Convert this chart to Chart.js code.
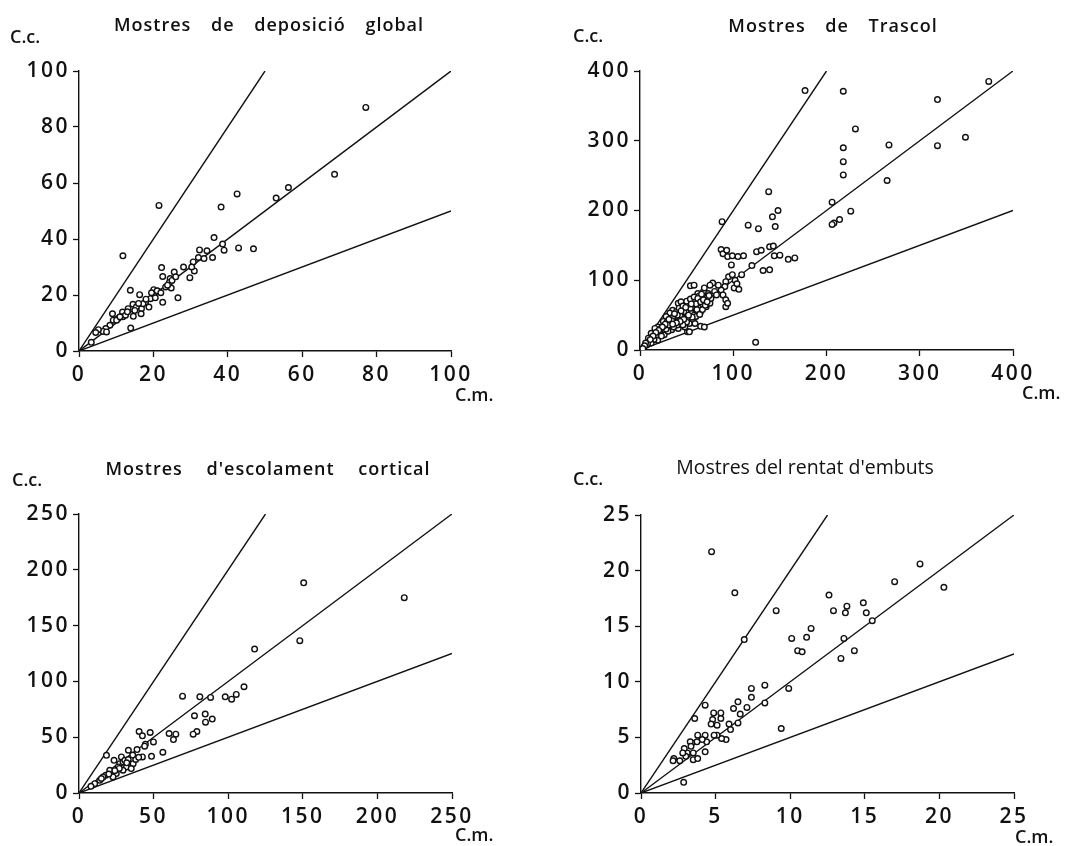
<!DOCTYPE html>
<html>
<head>
    <title>Concentracions calculades vs mesurades</title>
    <script src="https://cdnjs.cloudflare.com/ajax/libs/Chart.js/4.4.1/chart.umd.min.js"></script>
    <style>
        body { margin: 0; background: #fff; }
        .panel { position: absolute; }
    </style>
</head>
<body>
    <canvas id="c1" class="panel" width="540" height="423" style="left:0;top:0"></canvas>
    <canvas id="c2" class="panel" width="535" height="423" style="left:540px;top:0"></canvas>
    <canvas id="c3" class="panel" width="540" height="423" style="left:0;top:423px"></canvas>
    <canvas id="c4" class="panel" width="535" height="423" style="left:540px;top:423px"></canvas>

    <script>
        // [C.m., C.c.] pairs
        const deposicioGlobal = [
            [77.1,87.0],[68.7,63.1],[56.3,58.4],[53.0,54.6],[42.5,56.1],[38.2,51.4],[21.5,52.0],[11.8,34.0],
            [36.3,40.5],[42.9,36.8],[46.9,36.5],[38.6,38.2],[39.0,36.0],[35.9,33.4],[34.4,35.8],[32.4,36.1],
            [33.6,33.0],[32.1,33.4],[30.7,31.8],[31.0,28.6],[29.8,26.2],[28.1,30.0],[30.3,30.0],[25.6,28.2],
            [22.2,29.8],[22.5,26.6],[24.5,25.9],[26.6,19.0],[22.5,17.4],[24.8,22.5],[24.3,24.5],[25.0,25.2],
            [23.3,22.9],[21.3,21.3],[20.1,21.9],[20.1,20.5],[19.2,18.7],[18.8,15.7],[16.3,20.1],[16.8,15.1],
            [16.7,13.3],[17.9,17.5],[13.8,21.7],[13.9,8.2],[14.6,12.4],[14.5,16.7],[13.2,15.1],[11.7,13.9],
            [11.8,12.2],[10.5,11.6],[9.0,13.3],[9.2,11.0],[8.3,9.2],[7.2,8.0],[6.5,7.0],[5.2,7.6],[4.5,6.6],
            [3.3,3.1],[7.4,6.8],[10.1,11.0],[11.0,12.2],[15.4,15.7],[17.2,16.9],[19.5,20.8],[21.0,21.5],
            [22.0,20.8],[23.8,23.5],[18.0,18.5],[12.5,12.8],[13.0,14.0],[15.0,14.5],[16.0,17.0],[20.5,19.0],[26.0,26.5]
        ];
        const trascol = [
            [374,385],[319,359],[319,293],[349,305],[267,294],[265,243],[231,317],[218,371],[218,290],[218,270],
            [218,251],[206,212],[226,199],[214,187],[208,182],[206,180],[177,372],[138,227],[148,200],[142,191],
            [145,177],[116,179],[127,174],[88,184],[87,144],[89,138],[94,134],[105,134],[139,148],[144,135],
            [159,130],[166,132],[125,141],[120,121],[132,114],[109,108],[101,89],[124,11],[54,92],[65,34],[51,26],
            [98,122],[58,93],[95,105],[99,108],[102,100],[104,95],[92,98],[91,91],[87,86],[84,93],[78,96],[75,93],
            [80,84],[89,79],[92,72],[92,62],[94,67],[41,67],[44,69],[35,57],[32,53],[28,48],[25,41],[19,33],[16,31],
            [12,24],[9,17],[53,26],[69,33],[41,31],[48,33],[44,38],[34,29],[26,22],[19,14],[51,57],[59,62],[62,67],
            [66,72],[69,77],[55,53],[60,55],[64,60],[48,48],[51,45],[57,43],[44,45],[41,43],[37,41],[34,38],[30,33],
            [25,29],[21,26],[18,22],[14,17],[10,12],[7,7],[4,4],[48,41],[53,38],[59,38],[71,62],[75,67],[76,74],
            [82,79],[73,81],[68,84],[62,81],[69,89],[93,143],[99,135],[111,135],[130,143],[143,149],[150,136],
            [139,115],[106,87],[45,52],[38,47],[56,63],[63,70],[67,66],[58,50],[50,40],[46,36],[40,36],[36,33],
            [30,27],[28,30],[23,20],[15,15],[12,10],[8,9],[65,55],[70,70],[72,75],[61,58],[54,60],[47,55],[43,50],
            [39,55],[33,45],[29,40],[36,48],[52,66],[57,72],[63,77],[66,80],[60,66],[31,36],[26,35],[22,30],
            [42,60],[46,63],[50,70],[54,73],[58,76],[62,74],[65,69],[68,72],[55,66],[49,61],[44,56],[40,50],
            [37,52],[34,42],[31,44],[27,37],[24,33],[20,28],[17,25],[14,20],[11,15],[6,10],[5,6],[3,2],
            [60,48],[56,47],[52,50],[47,44],[43,41],[39,39],[35,37],[64,51],[67,58],[70,64],[72,69],[74,78]
        ];
        const escolamentCortical = [
            [218,175],[150.6,188.3],[148,136.5],[117.7,129],[110.6,95.2],[105.4,88.3],[102.3,84.1],[98,86.2],
            [88.2,85.6],[81,86.2],[69.4,86.8],[84.6,70.7],[77.4,69.2],[89.3,66.2],[84.8,63.5],[79,55.1],[76.5,52.7],
            [64.9,52.7],[60.4,53.3],[63.3,47.9],[56.2,36.5],[48.6,32.9],[49.9,45.8],[47.7,54.2],[40.3,55.1],
            [42.5,51.2],[44.5,43.7],[38.9,38.9],[33.1,38.3],[42.5,32.3],[18.4,33.8],[23.5,29.3],[27.3,26.3],
            [29.5,27.8],[31.8,23.4],[36.3,26.3],[38,30],[35,21.9],[29.5,20.4],[25,17.4],[20.6,20.4],[17.9,15.9],
            [13.9,11.4],[10.5,8.4],[22.8,14.4],[16.1,14.4],[26.2,23.4],[28.4,32.3],[30.7,29.3],[33,30],[36,34],
            [40,32],[44,42],[27,22],[32,27],[24,20],[20,17],[15,13],[8,6]
        ];
        const rentatEmbuts = [
            [4.73,21.7],[6.29,18.0],[6.92,13.8],[9.06,16.4],[18.7,20.6],[20.3,18.5],[17.0,19.0],[12.6,17.8],
            [12.9,16.4],[13.8,16.8],[13.7,16.2],[14.9,17.1],[15.1,16.2],[15.5,15.5],[13.6,13.9],[13.4,12.1],
            [14.3,12.8],[11.4,14.8],[11.1,14.0],[10.1,13.9],[10.5,12.8],[10.8,12.7],[9.9,9.4],[9.4,5.8],[8.3,9.7],
            [8.3,8.1],[7.4,9.4],[7.4,8.6],[7.1,7.7],[6.65,7.1],[6.5,8.2],[6.2,7.6],[6.5,6.3],[5.9,6.2],[6.0,5.7],
            [5.7,4.8],[5.4,4.9],[5.35,7.2],[5.35,6.7],[4.87,7.2],[4.8,6.6],[4.7,6.2],[5.1,6.1],[4.3,7.9],[5.1,5.2],
            [4.9,5.2],[4.3,5.2],[4.4,4.6],[4.3,3.7],[4.1,4.8],[3.8,5.2],[3.75,4.6],[3.4,4.5],[3.6,6.7],[3.3,4.6],
            [3.35,4.2],[3.5,3.6],[3.5,3.0],[3.8,3.1],[3.1,3.6],[2.9,4.0],[3.0,3.3],[2.8,3.6],[2.6,2.9],[2.2,3.1],
            [2.15,2.9],[2.86,0.96]
        ];

        // reference lines C.c. = k * C.m.
        const refSlopes = [2, 1, 0.5];

        const FONT = "'Open Sans', sans-serif";

        // text labels drawn per panel (canvas-local positions)
        const labelPlugin = {
            id: 'panelLabels',
            afterDraw(chart) {
                const o = chart.options.plugins.panelLabels;
                const ctx = chart.ctx;
                ctx.save();
                ctx.fillStyle = '#111';
                ctx.textBaseline = 'alphabetic';
                ctx.font = o.titleFont;
                ctx.letterSpacing = o.titleLetter || '0px';
                ctx.wordSpacing = o.titleWord || '0px';
                ctx.textAlign = 'center';
                ctx.fillText(o.title, o.titleX, o.titleY);
                ctx.letterSpacing = '0px';
                ctx.wordSpacing = '0px';
                ctx.font = "600 18px " + FONT;
                ctx.textAlign = 'left';
                ctx.fillText('C.c.', o.ccX, o.ccY);
                ctx.fillText('C.m.', o.cmX, o.cmY);
                ctx.restore();
            }
        };

        const spacingPlugin = {
            id: 'tickSpacing',
            beforeDraw(chart) { chart.ctx.letterSpacing = '2.5px'; },
            afterDraw(chart) { chart.ctx.letterSpacing = '0px'; }
        };

        function makePanel(id, points, maxVal, step, yAxisW, pad, labels) {
            const lines = refSlopes.map(k => ({
                type: 'line',
                data: [{ x: 0, y: 0 }, { x: Math.min(maxVal, maxVal / k), y: Math.min(maxVal, maxVal / k) * k }],
                borderColor: '#111',
                borderWidth: 1.4,
                pointRadius: 0,
                fill: false
            }));
            const axis = (isX) => ({
                type: 'linear',
                min: 0,
                max: maxVal,
                ticks: {
                    stepSize: step,
                    color: '#111',
                    font: { family: FONT, size: 21, weight: '600' },
                    padding: isX ? 5 : 3
                },
                grid: { drawOnChartArea: false, drawTicks: true, tickLength: 6, color: '#111', tickWidth: 1.3 },
                border: { display: true, color: '#111', width: 1.4 },
                afterFit(scale) {
                    if (isX) scale.height = 30; else scale.width = yAxisW;
                }
            });
            new Chart(document.getElementById(id), {
                type: 'scatter',
                data: {
                    datasets: [{
                        data: points.map(p => ({ x: p[0], y: p[1] })),
                        pointRadius: 2.8,
                        pointBorderWidth: 1.4,
                        pointBorderColor: '#111',
                        pointBackgroundColor: '#fff'
                    }].concat(lines)
                },
                options: {
                    responsive: false,
                    animation: false,
                    layout: { padding: pad },
                    plugins: {
                        legend: { display: false },
                        tooltip: { enabled: false },
                        panelLabels: labels
                    },
                    scales: { x: axis(true), y: axis(false) }
                },
                plugins: [spacingPlugin, labelPlugin]
            });
        }

        makePanel('c1', deposicioGlobal, 100, 20, 79,
            { left: 0, top: 71, right: 89, bottom: 42 },
            { title: 'Mostres de deposició global', titleX: 269, titleY: 31, titleFont: "600 18px " + FONT,
              titleLetter: '1px', titleWord: '14px', ccX: 10, ccY: 43, cmX: 455, cmY: 401 });

        makePanel('c2', trascol, 400, 100, 100,
            { left: 0, top: 71, right: 62, bottom: 43 },
            { title: 'Mostres de Trascol', titleX: 293, titleY: 32, titleFont: "600 18px " + FONT,
              titleLetter: '1px', titleWord: '14px', ccX: 33, ccY: 42, cmX: 482, cmY: 399 });

        makePanel('c3', escolamentCortical, 250, 50, 79,
            { left: 0, top: 91, right: 88, bottom: 23 },
            { title: "Mostres d'escolament cortical", titleX: 268, titleY: 52, titleFont: "600 18px " + FONT,
              titleLetter: '1px', titleWord: '18px', ccX: 12, ccY: 63, cmX: 455, cmY: 418 });

        makePanel('c4', rentatEmbuts, 25, 5, 101,
            { left: 0, top: 92, right: 61, bottom: 23 },
            { title: "Mostres del rentat d'embuts", titleX: 265, titleY: 51, titleFont: "500 19.5px " + FONT,
              titleLetter: '0px', titleWord: '0px', ccX: 33, ccY: 62, cmX: 475, cmY: 420 });
    </script>
</body>
</html>
